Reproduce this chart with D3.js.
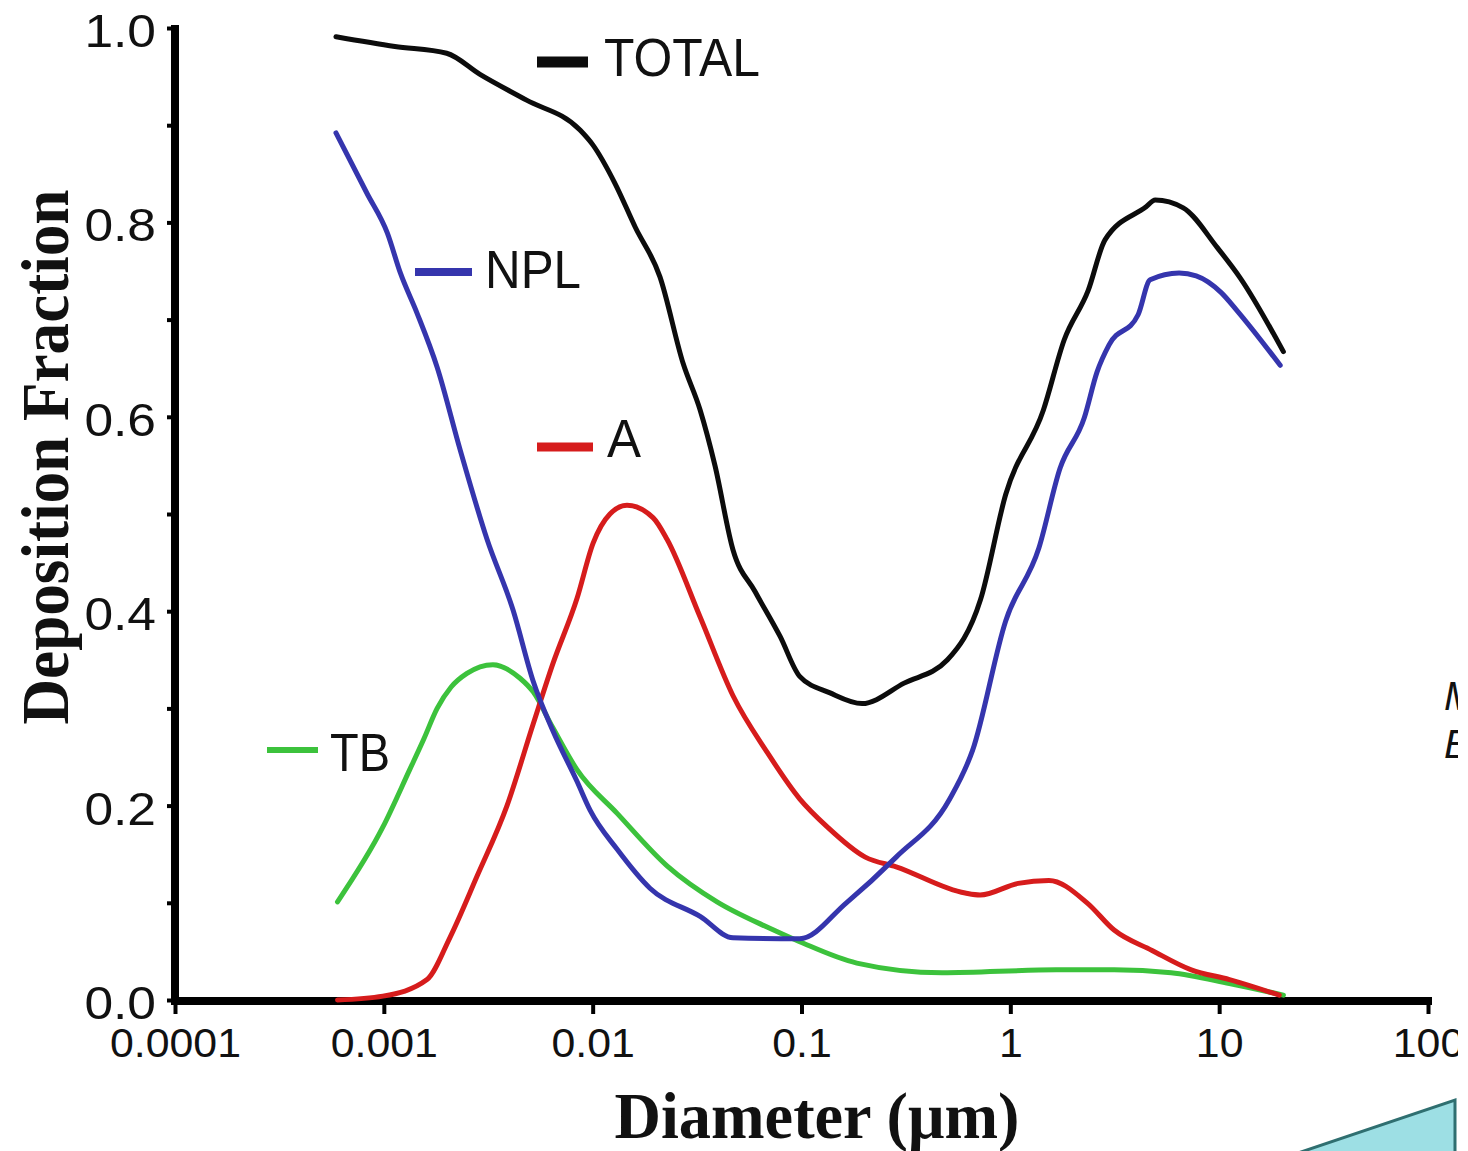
<!DOCTYPE html>
<html lang="en">
<head>
<meta charset="UTF-8">
<title>Deposition Fraction vs Diameter</title>
<script src="https://d3js.org/d3.v7.min.js"></script>
<style>
  body { margin: 0; background: #fff; }
  svg { display: block; background: #fff; }
</style>
</head>
<body>

<svg width="1468" height="1151"></svg>

<script>
// values: particle diameter (um) and deposition fraction
const totalDiam = [0.00059, 0.00113, 0.0020, 0.0029, 0.0048, 0.0087, 0.0100, 0.0128, 0.0160, 0.021, 0.0271, 0.0327, 0.0385, 0.047, 0.060, 0.079, 0.098, 0.137, 0.195, 0.31, 0.50, 0.72, 0.95, 1.44, 1.81, 2.36, 2.84, 4.47, 4.94, 6.73, 9.8, 12.6, 20.3];
const totalFrac = [0.991, 0.981, 0.974, 0.952, 0.926, 0.895, 0.880, 0.840, 0.795, 0.744, 0.655, 0.607, 0.550, 0.463, 0.420, 0.374, 0.333, 0.316, 0.305, 0.326, 0.350, 0.412, 0.520, 0.607, 0.679, 0.730, 0.782, 0.816, 0.823, 0.815, 0.774, 0.743, 0.667];

const nplDiam = [0.00059, 0.00083, 0.00104, 0.0012, 0.00144, 0.0018, 0.00232, 0.00312, 0.00416, 0.00519, 0.00645, 0.00841, 0.00973, 0.0131, 0.0188, 0.0327, 0.047, 0.098, 0.164, 0.284, 0.51, 0.66, 0.95, 1.37, 1.73, 2.26, 2.6, 2.97, 4.09, 4.67, 6.43, 7.76, 10.2, 12.2, 19.6];
const nplFrac = [0.892, 0.830, 0.789, 0.748, 0.707, 0.651, 0.566, 0.474, 0.401, 0.328, 0.277, 0.225, 0.195, 0.155, 0.115, 0.086, 0.064, 0.063, 0.100, 0.147, 0.206, 0.257, 0.390, 0.465, 0.547, 0.599, 0.646, 0.674, 0.705, 0.741, 0.748, 0.745, 0.728, 0.709, 0.653];

const aDiam = [0.0006, 0.00099, 0.00161, 0.00207, 0.00279, 0.00389, 0.00519, 0.00645, 0.00841, 0.01005, 0.0121, 0.0146, 0.0195, 0.0227, 0.0327, 0.047, 0.0684, 0.098, 0.133, 0.202, 0.284, 0.608, 0.716, 1.09, 1.53, 2.33, 3.14, 4.77, 7.35, 11.2, 19.4];
const aFrac = [0.0, 0.004, 0.021, 0.064, 0.127, 0.200, 0.284, 0.346, 0.413, 0.470, 0.500, 0.509, 0.496, 0.474, 0.394, 0.313, 0.255, 0.207, 0.178, 0.147, 0.137, 0.110, 0.108, 0.120, 0.123, 0.100, 0.072, 0.051, 0.031, 0.021, 0.005];

const tbDiam = [0.0006, 0.00099, 0.00133, 0.00155, 0.0018, 0.0021, 0.0025, 0.00333, 0.00449, 0.00519, 0.00645, 0.00841, 0.0131, 0.0227, 0.0394, 0.0684, 0.098, 0.184, 0.471, 1.66, 3.14, 5.89, 11.2, 20.3];
const tbFrac = [0.101, 0.178, 0.237, 0.268, 0.300, 0.322, 0.336, 0.345, 0.331, 0.317, 0.280, 0.237, 0.192, 0.138, 0.101, 0.075, 0.060, 0.038, 0.028, 0.031, 0.031, 0.028, 0.017, 0.005];

const seriesNames = ['TOTAL', 'NPL', 'A', 'TB'];
const seriesColors = ['#0c0c0c', '#3535ad', '#d61c1c', '#3cc23c'];

const xTickValues = [0.0001, 0.001, 0.01, 0.1, 1, 10, 100];
const xTickLabels = ['0.0001', '0.001', '0.01', '0.1', '1', '10', '100'];
const yTickValues = [0, 0.1, 0.2, 0.3, 0.4, 0.5, 0.6, 0.7, 0.8, 0.9, 1.0];
const yTickLabels = ['0.0', '', '0.2', '', '0.4', '', '0.6', '', '0.8', '', '1.0'];

const xTitle = 'Diameter (\u03bcm)';
const yTitle = 'Deposition  Fraction';

// where the in-plot labels sit (pixels)
const labelLayout = [
    { x1: 537, x2: 588, y: 62,  w: 11, tx: 604, ty: 76,  len: 156 },
    { x1: 415, x2: 472, y: 272, w: 8,  tx: 485, ty: 288, len: 96 },
    { x1: 537, x2: 593, y: 447, w: 9,  tx: 607, ty: 457, len: 34 },
    { x1: 267, x2: 318, y: 750, w: 6,  tx: 330, ty: 771, len: 60 }
];

function drawChart() {
    const svg = d3.select('svg');

    svg.append('defs').append('clipPath').attr('id', 'page')
        .append('rect').attr('x', 0).attr('y', 0).attr('width', 1458).attr('height', 1151);

    const g = svg.append('g').attr('clip-path', 'url(#page)');

    const x = d3.scaleLog().domain([0.0001, 100]).range([175, 1428]);
    const y = d3.scaleLinear().domain([0, 1]).range([1000, 28]);

    // axes
    const gX = g.append('g')
        .attr('transform', `translate(0,${y(0)})`)
        .call(d3.axisBottom(x)
            .tickValues(xTickValues)
            .tickFormat((d, i) => xTickLabels[i])
            .tickSize(14)
            .tickPadding(15)
            .tickSizeOuter(0));

    const gY = g.append('g')
        .attr('transform', `translate(${x(0.0001)},0)`)
        .call(d3.axisLeft(y)
            .tickValues(yTickValues)
            .tickFormat((d, i) => yTickLabels[i])
            .tickSize(8)
            .tickPadding(11)
            .tickSizeOuter(0));

    gX.select('.domain').remove();
    gY.select('.domain').remove();
    gX.selectAll('.tick line').attr('stroke', '#000').attr('stroke-width', 4);
    gY.selectAll('.tick line').attr('stroke', '#000').attr('stroke-width', 4);

    gX.selectAll('.tick text')
        .attr('font-family', '"Liberation Sans", Arial, sans-serif')
        .attr('font-size', 40)
        .attr('fill', '#111')
        .each(function () {
            d3.select(this).attr('textLength', this.getComputedTextLength() * 1.07)
              .attr('lengthAdjust', 'spacingAndGlyphs');
        });

    gY.selectAll('.tick text')
        .attr('font-family', '"Liberation Sans", Arial, sans-serif')
        .attr('font-size', 46)
        .attr('fill', '#111')
        .attr('dy', '0.4em')
        .each(function () {
            if (!this.textContent) return;
            d3.select(this).attr('textLength', this.getComputedTextLength() * 1.12)
              .attr('lengthAdjust', 'spacingAndGlyphs');
        });

    // axis lines
    g.append('line')
        .attr('x1', x(0.0001)).attr('x2', x(0.0001))
        .attr('y1', y(0) + 4).attr('y2', y(1) - 3)
        .attr('stroke', '#000').attr('stroke-width', 8);
    g.append('line')
        .attr('x1', x(0.0001) - 4).attr('x2', x(100) + 4)
        .attr('y1', y(0) + 1).attr('y2', y(0) + 1)
        .attr('stroke', '#000').attr('stroke-width', 8);

    // curves
    const series = [
        d3.zip(totalDiam, totalFrac),
        d3.zip(nplDiam, nplFrac),
        d3.zip(aDiam, aFrac),
        d3.zip(tbDiam, tbFrac)
    ];

    const line = d3.line()
        .x(d => x(d[0]))
        .y(d => y(d[1]))
        .curve(d3.curveMonotoneX);

    // TB first, TOTAL last
    [3, 2, 1, 0].forEach(i => {
        g.append('path')
            .datum(series[i])
            .attr('fill', 'none')
            .attr('stroke', seriesColors[i])
            .attr('stroke-width', 5)
            .attr('stroke-linejoin', 'round')
            .attr('stroke-linecap', 'round')
            .attr('d', line);
    });

    // in-plot labels
    seriesNames.forEach((name, i) => {
        const p = labelLayout[i];
        g.append('line')
            .attr('x1', p.x1).attr('x2', p.x2)
            .attr('y1', p.y).attr('y2', p.y)
            .attr('stroke', seriesColors[i])
            .attr('stroke-width', p.w);
        g.append('text')
            .attr('x', p.tx).attr('y', p.ty)
            .attr('font-family', '"Liberation Sans", Arial, sans-serif')
            .attr('font-size', 53)
            .attr('fill', '#111')
            .attr('textLength', p.len)
            .attr('lengthAdjust', 'spacingAndGlyphs')
            .text(name);
    });

    // axis titles
    g.append('text')
        .attr('x', 817).attr('y', 1138)
        .attr('text-anchor', 'middle')
        .attr('font-family', '"Liberation Serif", "Times New Roman", serif')
        .attr('font-weight', 'bold')
        .attr('font-size', 66)
        .attr('fill', '#111')
        .attr('textLength', 405)
        .attr('lengthAdjust', 'spacingAndGlyphs')
        .text(xTitle);

    g.append('text')
        .attr('transform', 'translate(68,457) rotate(-90)')
        .attr('text-anchor', 'middle')
        .attr('font-family', '"Liberation Serif", "Times New Roman", serif')
        .attr('font-weight', 'bold')
        .attr('font-size', 68)
        .attr('fill', '#111')
        .attr('textLength', 535)
        .attr('lengthAdjust', 'spacingAndGlyphs')
        .text(yTitle);

    // bits of the neighbouring figure, cut off at the right edge as in the source
    g.append('text')
        .attr('x', 1444).attr('y', 710)
        .attr('font-family', '"Liberation Sans", Arial, sans-serif')
        .attr('font-style', 'italic')
        .attr('font-size', 40)
        .attr('fill', '#111')
        .text('M');
    g.append('text')
        .attr('x', 1444).attr('y', 758)
        .attr('font-family', '"Liberation Sans", Arial, sans-serif')
        .attr('font-style', 'italic')
        .attr('font-size', 40)
        .attr('fill', '#111')
        .text('E');
    g.append('polygon')
        .attr('points', '1298,1153 1455,1100 1455,1153')
        .attr('fill', '#9ddfe4')
        .attr('stroke', '#2f6f70')
        .attr('stroke-width', 3);
}

drawChart();
</script>
</body>
</html>
